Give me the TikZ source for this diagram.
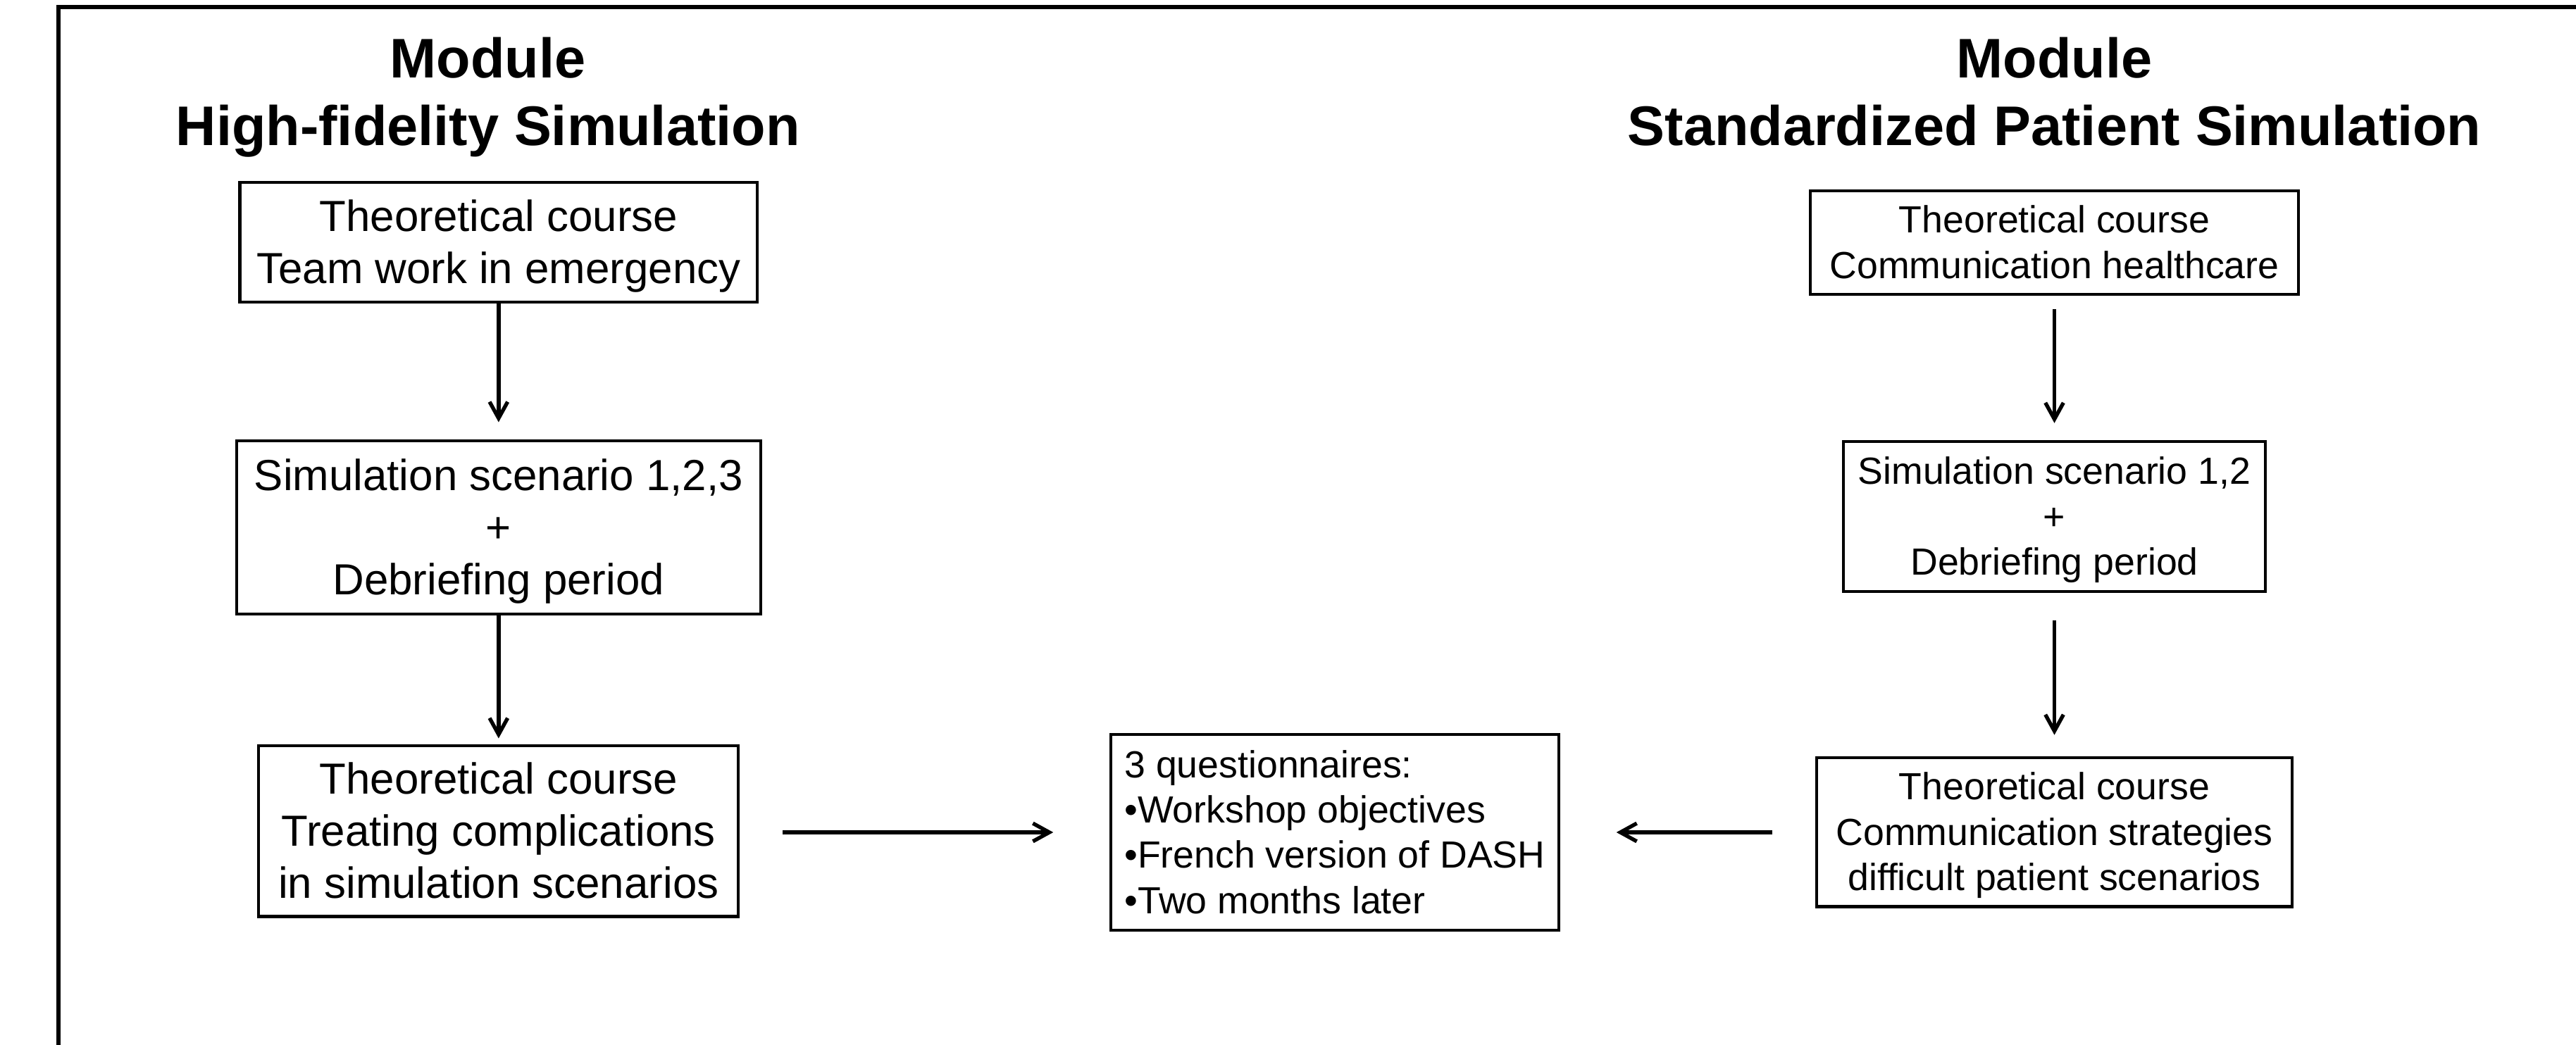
\documentclass[tikz,border=0pt]{standalone}
\usepackage{fontspec}
\setmainfont{Liberation Sans}
\usetikzlibrary{arrows.meta}
\newcommand\mytopst{\rule{0pt}{0.905em}}
\newcommand\mybotst{\rule[-0.212em]{0pt}{0pt}}
\tikzset{
  box/.style={draw, line width=1.8pt, inner sep=0pt, align=center},
  bigtxt/.style={font=\fontsize{26.5}{31.8}\selectfont},
  smalltxt/.style={font=\fontsize{23}{27.6}\selectfont},
  titletxt/.style={font=\fontsize{34}{41}\selectfont\bfseries, anchor=base, inner sep=0pt},
  arr/.style={line width=2.3pt, -{Straight Barb[length=10pt,width=11pt]}},
  frame/.style={line width=2.3pt}
}
\begin{document}
\begin{tikzpicture}[x=1pt,y=-1pt]
\fill[white] (0,0) rectangle (1568,636);
\useasboundingbox (0,0) rectangle (1568,636);
\draw[frame] (35.6,640) -- (35.6,4.3) -- (1572,4.3);

% titles
\node[titletxt] (TL1) at (297,47.3) {Module};
\node[titletxt] (TL2) at (297,88.5) {High-fidelity Simulation};
\node[titletxt] (TR1) at (1250.5,47.3) {Module};
\node[titletxt] (TR2) at (1250.5,88.5) {Standardized Patient Simulation};

% left column
\node[box, bigtxt, minimum width=315pt, minimum height=73pt] (L1) at (303.5,147.5)
  {\mytopst Theoretical course\\Team work in emergency\mybotst};
\node[box, bigtxt, minimum width=319pt, minimum height=105.5pt] (L2) at (303.5,321.2)
  {\mytopst Simulation scenario 1,2,3\\+\\Debriefing period\mybotst};
\node[box, bigtxt, minimum width=292pt, minimum height=104pt] (L3) at (303.5,506)
  {\mytopst Theoretical course\\Treating complications\\in simulation scenarios\mybotst};

% center
\node[box, smalltxt, align=left, minimum width=273pt, minimum height=119pt] (C) at (812.5,506.8)
  {\mytopst 3 questionnaires:\\•Workshop objectives\\•French version of DASH\\•Two months later\mybotst};

% right column
\node[box, smalltxt, minimum width=297pt, minimum height=63pt] (R1) at (1250.5,147.6)
  {\mytopst Theoretical course\\Communication healthcare\mybotst};
\node[box, smalltxt, minimum width=257pt, minimum height=91pt] (R2) at (1250.5,314.5)
  {\mytopst Simulation scenario 1,2\\+\\Debriefing period\mybotst};
\node[box, smalltxt, minimum width=289.5pt, minimum height=90.6pt] (R3) at (1250.5,506.7)
  {\mytopst Theoretical course\\Communication strategies\\difficult patient scenarios\mybotst};

% connectors
\draw[arr, shorten >=10.5pt] (L1) -- (L2);
\draw[arr, shorten >=3.5pt] (L2) -- (L3);
\draw[arr, shorten <=8.3pt, shorten >=10.5pt] (R1) -- (R2);
\draw[arr, shorten <=17pt, shorten >=13pt] (R2) -- (R3);
\draw[arr, shorten <=26pt, shorten >=34pt] (L3.east |- C.center) -- (C.west);
\draw[arr, shorten <=26pt, shorten >=34pt] (R3.west |- C.center) -- (C.east);
\end{tikzpicture}
\end{document}
